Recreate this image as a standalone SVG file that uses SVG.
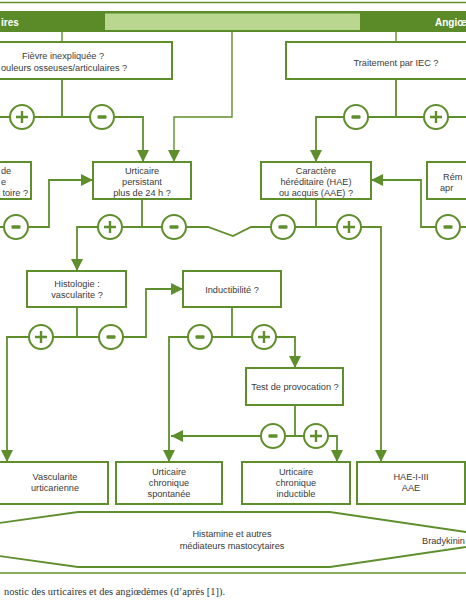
<svg xmlns="http://www.w3.org/2000/svg" xmlns:xlink="http://www.w3.org/1999/xlink" width="466" height="600" viewBox="0 0 466 600">
<defs>
<style>
.box{fill:#fff;stroke:#5f8f2d;stroke-width:2}
.ln{fill:none;stroke:#5f8f2d;stroke-width:1.8}
.thin{fill:none;stroke:#5f8f2d;stroke-width:1.4}
.t{font-family:"Liberation Sans",Arial,sans-serif;font-size:9.2px;fill:#3a3a3a;text-anchor:middle}
.ts{font-family:"Liberation Sans",Arial,sans-serif;font-size:9.2px;fill:#3a3a3a}
.hd{font-family:"Liberation Sans",Arial,sans-serif;font-size:10px;font-weight:bold;fill:#fff}
.cap{font-family:"Liberation Serif","Times New Roman",serif;font-size:10.4px;fill:#333}
</style>
<marker id="ah" viewBox="0 0 12 12" refX="12" refY="6" markerWidth="12" markerHeight="12" markerUnits="userSpaceOnUse" orient="auto">
<path d="M0,0 L12,6 L0,12 z" fill="#5f8f2d"/>
</marker>
<g id="plus"><circle r="12" fill="#fff" stroke="#5f8f2d" stroke-width="2"/><path d="M-6,0H6M0,-6V6" stroke="#5f8f2d" stroke-width="2.4" fill="none"/></g>
<g id="minus"><circle r="12" fill="#fff" stroke="#5f8f2d" stroke-width="2"/><rect x="-4.5" y="-1.8" width="9" height="3.6" rx="1" fill="#5f8f2d"/></g>
</defs>
<rect width="466" height="600" fill="#fff"/>

<g id="frame">
<line x1="0" y1="2.5" x2="466" y2="2.5" stroke="#5f8f2d" stroke-width="1.3"/>
<line x1="0" y1="573" x2="466" y2="573" stroke="#5f8f2d" stroke-width="1.6"/>
</g>

<g id="header">
<rect x="0" y="11" width="466" height="21" fill="#5b8b29"/>
<rect x="105" y="13.5" width="255" height="16.5" fill="#b9d78f"/>
<text class="hd" x="1" y="25.5">ires</text>
<text class="hd" x="435" y="25.5">Angiœ</text>
</g>

<g id="connectors">
<path class="thin" d="M62,32V42"/>
<path class="thin" d="M396,32V42"/>
<path class="thin" d="M232,32V117H174V162" marker-end="url(#ah)"/>
<path class="ln" d="M62,79V117"/>
<path class="ln" d="M0,117H143V162" marker-end="url(#ah)"/>
<path class="ln" d="M396,79V117"/>
<path class="ln" d="M466,117H316V162" marker-end="url(#ah)"/>
<path class="ln" d="M0,227H49V180H93" marker-end="url(#ah)"/>
<path class="ln" d="M466,227H421V180H371" marker-end="url(#ah)"/>
<path class="ln" d="M142,199V227"/>
<path class="ln" d="M142,227H77V271" marker-end="url(#ah)"/>
<path class="ln" d="M142,227H208L233,236L251,227H316"/>
<path class="ln" d="M316,199V227H381V462" marker-end="url(#ah)"/>
<path class="ln" d="M77,307V337"/>
<path class="ln" d="M77,337H7V462" marker-end="url(#ah)"/>
<path class="ln" d="M77,337H146V289H183" marker-end="url(#ah)"/>
<path class="ln" d="M232,307V337"/>
<path class="ln" d="M232,337H169V462" marker-end="url(#ah)"/>
<path class="ln" d="M232,337H295V368" marker-end="url(#ah)"/>
<path class="ln" d="M295,405V436"/>
<path class="ln" d="M295,436H171" marker-end="url(#ah)"/>
<path class="ln" d="M295,436H337V462" marker-end="url(#ah)"/>
<use href="#plus" xlink:href="#plus" x="22" y="117"/>
<use href="#minus" xlink:href="#minus" x="102" y="117"/>
<use href="#minus" xlink:href="#minus" x="356" y="117"/>
<use href="#plus" xlink:href="#plus" x="436" y="117"/>
<use href="#minus" xlink:href="#minus" x="16" y="227"/>
<use href="#plus" xlink:href="#plus" x="110" y="227"/>
<use href="#minus" xlink:href="#minus" x="174" y="227"/>
<use href="#minus" xlink:href="#minus" x="283" y="227"/>
<use href="#plus" xlink:href="#plus" x="349" y="227"/>
<use href="#minus" xlink:href="#minus" x="448" y="227"/>
<use href="#plus" xlink:href="#plus" x="41" y="337"/>
<use href="#minus" xlink:href="#minus" x="111" y="337"/>
<use href="#minus" xlink:href="#minus" x="200" y="337"/>
<use href="#plus" xlink:href="#plus" x="264" y="337"/>
<use href="#minus" xlink:href="#minus" x="273" y="436"/>
<use href="#plus" xlink:href="#plus" x="316" y="436"/>
</g>

<g id="fievre">
<rect class="box" x="-50" y="42" width="222" height="37"/>
<text class="t" x="63" y="58.5">Fièvre inexpliquée ?</text>
<text class="ts" x="1" y="70.5">ouleurs osseuses/articulaires ?</text>
</g>

<g id="traitement">
<rect class="box" x="286" y="42" width="220" height="37"/>
<text class="t" x="396" y="66">Traitement par IEC ?</text>
</g>

<g id="gauche">
<rect class="box" x="-70" y="162" width="101" height="37"/>
<text class="ts" x="1" y="173.5">de</text>
<text class="ts" x="1" y="184.5">e</text>
<text class="ts" x="28" y="195.5" text-anchor="end">toire ?</text>
</g>

<g id="urticaire-persistant">
<rect class="box" x="93" y="162" width="98" height="37"/>
<text class="t" x="142" y="173.5">Urticaire</text>
<text class="t" x="142" y="184.5">persistant</text>
<text class="t" x="142" y="195.5">plus de 24 h ?</text>
</g>

<g id="caractere">
<rect class="box" x="261" y="162" width="110" height="37"/>
<text class="t" x="316" y="173.5">Caractère</text>
<text class="t" x="316" y="184.5">héréditaire (HAE)</text>
<text class="t" x="316" y="195.5">ou acquis (AAE) ?</text>
</g>

<g id="remission">
<rect class="box" x="427" y="162" width="80" height="37"/>
<text class="ts" x="443" y="179.5">Rém</text>
<text class="ts" x="440" y="190.5">apr</text>
</g>

<g id="histologie">
<rect class="box" x="27" y="271" width="99" height="36"/>
<text class="t" x="77" y="286.5">Histologie :</text>
<text class="t" x="77" y="297.5">vascularite ?</text>
</g>

<g id="inductibilite">
<rect class="box" x="183" y="271" width="98" height="36"/>
<text class="t" x="232" y="292.5">Inductibilité ?</text>
</g>

<g id="test">
<rect class="box" x="246" y="368" width="97" height="37"/>
<text class="t" x="295" y="389.5">Test de provocation ?</text>
</g>

<g id="vascularite">
<rect class="box" x="-2" y="462" width="110" height="42"/>
<text class="t" x="55" y="480">Vascularite</text>
<text class="t" x="55" y="491">urticarienne</text>
</g>

<g id="spontanee">
<rect class="box" x="116" y="462" width="106" height="42"/>
<text class="t" x="169" y="475">Urticaire</text>
<text class="t" x="169" y="486">chronique</text>
<text class="t" x="169" y="497">spontanée</text>
</g>

<g id="inductible">
<rect class="box" x="242" y="462" width="108" height="42"/>
<text class="t" x="296" y="475">Urticaire</text>
<text class="t" x="296" y="486">chronique</text>
<text class="t" x="296" y="497">inductible</text>
</g>

<g id="hae">
<rect class="box" x="357" y="462" width="108" height="42"/>
<text class="t" x="411" y="480">HAE-I-III</text>
<text class="t" x="411" y="491">AAE</text>
</g>

<g id="mediateurs">
<path class="ln" d="M-120,539.5L78,512H330L517,539.5L330,567H78Z"/>
<text class="t" x="232" y="537">Histamine et autres</text>
<text class="t" x="232" y="549">médiateurs mastocytaires</text>
<text class="ts" x="422" y="543.5">Bradykinin</text>
</g>

<text class="cap" x="4" y="595">nostic des urticaires et des angiœdèmes (d’après [1]).</text>
</svg>
